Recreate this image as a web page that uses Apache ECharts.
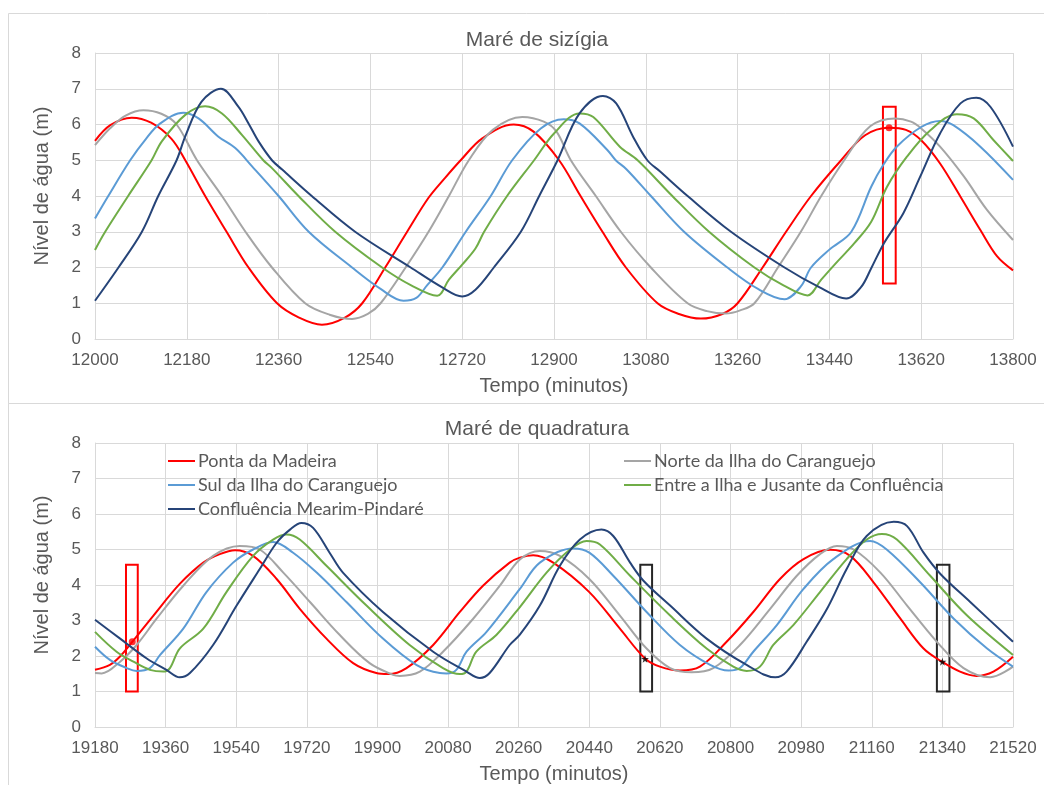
<!DOCTYPE html>
<html>
<head>
<meta charset="utf-8">
<title>Maré</title>
<script src="https://cdn.jsdelivr.net/npm/echarts@6/dist/echarts.min.js"></script>
<style>
html, body { margin: 0; padding: 0; background: #fff; }
#main { width: 1044px; height: 785px; }
</style>
</head>
<body>
<div id="main"></div>
<script>
// nomes das estações e cores (estilo Excel)
const names = ['Ponta da Madeira', 'Norte da Ilha do Caranguejo', 'Sul da Ilha do Caranguejo',
               'Entre a Ilha e Jusante da Confluência', 'Confluência Mearim-Pindaré'];
const colors = ['#ff0000', '#a5a5a5', '#5b9bd5', '#70ad47', '#264478'];

// Maré de sizígia: [tempo (min), nível (m)]
const sizPonta = [[12000,5.54],[12030,5.98],[12072,6.19],[12110,6.05],[12150,5.6],[12177,5.0],[12216,4.0],[12258,3.0],[12301,2.0],[12357,1.0],[12400,0.6],[12445,0.40],[12490,0.6],[12524,1.0],[12569,2.0],[12612,3.0],[12654,3.95],[12686,4.5],[12717,5.0],[12760,5.62],[12821,6.0],[12860,5.8],[12910,5.0],[12952,4.0],[12995,3.0],[13041,2.0],[13103,1.0],[13145,0.7],[13188,0.57],[13230,0.7],[13260,1.0],[13309,2.0],[13355,3.0],[13404,4.0],[13463,5.0],[13510,5.7],[13557,5.91],[13590,5.85],[13620,5.56],[13657,4.91],[13697,3.98],[13736,3.05],[13769,2.31],[13800,1.92]];
const sizNorte = [[12000,5.42],[12030,5.9],[12060,6.25],[12095,6.40],[12130,6.3],[12160,6.0],[12200,5.0],[12249,4.0],[12295,3.0],[12347,2.0],[12412,1.0],[12460,0.68],[12504,0.56],[12535,0.7],[12560,1.0],[12609,2.0],[12654,3.0],[12694,4.0],[12733,5.0],[12780,5.85],[12838,6.21],[12880,6.08],[12905,5.8],[12933,5.0],[12982,4.0],[13031,3.0],[13090,2.0],[13162,1.0],[13200,0.78],[13237,0.71],[13265,0.8],[13293,1.0],[13339,2.0],[13384,3.0],[13424,4.0],[13469,5.0],[13520,5.95],[13569,6.17],[13600,6.08],[13620,5.89],[13657,5.38],[13704,4.54],[13749,3.61],[13800,2.77]];
const sizSul = [[12000,3.37],[12026,4.0],[12069,5.0],[12100,5.6],[12128,6.03],[12173,6.33],[12203,6.17],[12242,5.66],[12275,5.34],[12308,4.83],[12360,4.0],[12419,3.0],[12504,2.0],[12560,1.4],[12605,1.07],[12630,1.15],[12651,1.5],[12681,2.0],[12727,3.0],[12776,4.0],[12818,5.0],[12874,5.89],[12919,6.15],[12950,6.03],[13005,5.28],[13021,5.0],[13042,4.75],[13090,4.0],[13155,3.0],[13240,2.0],[13300,1.4],[13352,1.11],[13384,1.47],[13404,2.0],[13440,2.5],[13483,3.0],[13522,4.26],[13547,4.9],[13572,5.38],[13620,5.93],[13657,6.10],[13683,5.98],[13736,5.38],[13800,4.45]];
const sizEntre = [[12000,2.49],[12020,3.0],[12065,4.0],[12111,5.0],[12131,5.53],[12177,6.27],[12216,6.51],[12249,6.31],[12288,5.71],[12330,5.0],[12347,4.78],[12399,4.0],[12471,3.0],[12563,2.0],[12620,1.5],[12671,1.21],[12694,1.66],[12720,2.08],[12746,2.53],[12763,3.0],[12808,4.0],[12861,5.0],[12900,5.75],[12950,6.31],[12977,6.21],[13029,5.38],[13064,5.0],[13132,4.0],[13204,3.0],[13293,2.0],[13350,1.5],[13397,1.22],[13424,1.66],[13456,2.17],[13489,2.68],[13522,3.28],[13553,4.26],[13592,5.10],[13638,5.84],[13690,6.29],[13723,6.17],[13762,5.56],[13800,4.98]];
const sizConfluencia = [[12000,1.07],[12046,2.0],[12092,3.0],[12124,4.0],[12160,5.0],[12177,5.67],[12209,6.64],[12247,7.0],[12281,6.5],[12301,6.03],[12321,5.52],[12347,5.0],[12367,4.74],[12425,4.0],[12510,3.0],[12619,2.0],[12680,1.45],[12720,1.19],[12746,1.38],[12782,2.0],[12835,3.0],[12871,4.0],[12907,5.0],[12950,6.31],[12996,6.80],[13022,6.59],[13055,5.66],[13083,5.0],[13107,4.7],[13162,4.0],[13247,3.0],[13352,2.0],[13420,1.45],[13473,1.13],[13502,1.45],[13522,1.98],[13547,2.68],[13585,3.52],[13618,4.54],[13657,5.75],[13697,6.59],[13728,6.75],[13756,6.49],[13800,5.38]];

// Maré de quadratura
const quadPonta = [[19180,1.61],[19218,1.75],[19245,2.0],[19275,2.40],[19329,3.14],[19396,4.03],[19456,4.63],[19498,4.87],[19537,4.98],[19583,4.82],[19643,4.17],[19702,3.33],[19770,2.49],[19838,1.80],[19897,1.52],[19927,1.49],[19974,1.66],[20042,2.31],[20110,3.24],[20169,3.98],[20237,4.63],[20263,4.77],[20297,4.84],[20348,4.63],[20440,3.80],[20518,2.77],[20582,1.93],[20620,1.70],[20671,1.59],[20722,1.70],[20790,2.40],[20858,3.24],[20926,4.17],[20986,4.73],[21054,4.99],[21105,4.82],[21165,4.07],[21233,3.05],[21292,2.21],[21339,1.84],[21385,1.56],[21427,1.44],[21470,1.56],[21520,1.98]];
const quadNorte = [[19180,1.52],[19197,1.51],[19244,1.84],[19286,2.31],[19337,3.05],[19405,3.98],[19481,4.82],[19549,5.10],[19600,5.0],[19660,4.35],[19728,3.52],[19804,2.59],[19880,1.80],[19940,1.47],[19957,1.44],[20008,1.56],[20067,2.12],[20144,3.05],[20212,3.98],[20263,4.72],[20314,4.96],[20365,4.82],[20440,4.17],[20518,3.14],[20586,2.21],[20646,1.66],[20701,1.54],[20756,1.66],[20824,2.31],[20901,3.33],[20969,4.26],[21028,4.87],[21071,5.10],[21114,5.0],[21182,4.35],[21250,3.42],[21326,2.40],[21394,1.66],[21462,1.40],[21520,1.70]];
const quadSul = [[19180,2.26],[19218,1.89],[19261,1.66],[19286,1.58],[19320,1.66],[19346,2.03],[19405,2.77],[19464,3.80],[19532,4.63],[19583,5.0],[19634,5.21],[19685,4.91],[19745,4.35],[19821,3.52],[19914,2.49],[19999,1.75],[20059,1.52],[20076,1.51],[20101,1.61],[20127,2.12],[20178,2.68],[20263,3.89],[20314,4.63],[20399,5.03],[20440,4.91],[20501,4.26],[20586,3.24],[20671,2.31],[20748,1.75],[20795,1.59],[20824,1.66],[20858,2.12],[20918,2.87],[20986,3.89],[21062,4.73],[21156,5.24],[21198,5.0],[21284,4.07],[21369,3.05],[21454,2.21],[21520,1.70]];
const quadEntre = [[19180,2.68],[19235,2.12],[19278,1.84],[19320,1.61],[19354,1.56],[19371,1.66],[19396,2.21],[19456,2.77],[19515,3.80],[19583,4.82],[19634,5.28],[19668,5.42],[19702,5.28],[19770,4.54],[19872,3.42],[19982,2.31],[20067,1.66],[20110,1.49],[20127,1.56],[20152,2.12],[20203,2.59],[20263,3.38],[20331,4.35],[20391,5.0],[20433,5.24],[20467,5.14],[20544,4.26],[20646,3.14],[20739,2.21],[20807,1.70],[20841,1.58],[20875,1.70],[20909,2.31],[20960,2.87],[21028,3.80],[21096,4.73],[21147,5.28],[21186,5.44],[21224,5.28],[21309,4.26],[21403,3.14],[21520,2.03]];
const quadConfluencia = [[19180,3.02],[19244,2.49],[19312,1.93],[19362,1.61],[19396,1.40],[19422,1.52],[19481,2.31],[19541,3.42],[19600,4.45],[19643,5.19],[19677,5.56],[19706,5.75],[19736,5.61],[19778,4.91],[19812,4.35],[19914,3.24],[20042,2.12],[20127,1.56],[20161,1.38],[20186,1.52],[20237,2.31],[20263,2.6],[20314,3.42],[20365,4.54],[20416,5.28],[20471,5.56],[20501,5.38],[20544,4.63],[20578,4.12],[20646,3.42],[20739,2.49],[20841,1.75],[20914,1.40],[20943,1.56],[20994,2.40],[21046,3.33],[21096,4.45],[21147,5.38],[21216,5.78],[21250,5.66],[21292,4.91],[21335,4.31],[21411,3.52],[21520,2.40]];

// destaques: caixas [t0, y0, t1, y1] e pontos
const sizBox = [[13545, 1.55, 13570, 6.5]];
const sizDot = [[13557, 5.91]];
const quadBoxRed = [[19259, 1.0, 19289, 4.57]];
const quadBoxBlack = [[20570, 1.0, 20600, 4.57], [21326, 1.0, 21358, 4.57]];
const quadDot = [[19275, 2.40]];
const quadStar = [[20582, 1.92], [21340, 1.84]];

const sizData = [sizPonta, sizNorte, sizSul, sizEntre, sizConfluencia];
const quadData = [quadPonta, quadNorte, quadSul, quadEntre, quadConfluencia];

var axisFont = 'Liberation Sans, Arial, sans-serif';
var grayTxt = '#595959';
var gridCol = '#d9d9d9';

function boxes(list, col) {
    return list.map(function (b) {
        return [{ xAxis: b[0], yAxis: b[1], itemStyle: { color: 'rgba(0,0,0,0)', borderColor: col, borderWidth: 2 } },
                { xAxis: b[2], yAxis: b[3] }];
    });
}

function xAx(idx, min, max) {
    return {
        type: 'value', gridIndex: idx, min: min, max: max, interval: 180,
        name: 'Tempo (minutos)', nameLocation: 'middle', nameGap: 37,
        nameTextStyle: { color: grayTxt, fontSize: 20, fontFamily: axisFont },
        axisLine: { show: true, lineStyle: { color: gridCol } },
        axisTick: { show: false },
        axisLabel: { color: grayTxt, fontSize: 17, fontFamily: axisFont, margin: 13,
                     formatter: function (v) { return String(v); } },
        splitLine: { show: true, lineStyle: { color: gridCol } }
    };
}

function yAx(idx) {
    return {
        type: 'value', gridIndex: idx, min: 0, max: 8, interval: 1,
        name: 'Nível de água (m)', nameLocation: 'middle', nameGap: 43, nameRotate: 90,
        nameTextStyle: { color: grayTxt, fontSize: 20, fontFamily: axisFont, padding: [0, 0, 0, 20] },
        axisLine: { show: true, lineStyle: { color: gridCol } },
        axisTick: { show: false },
        axisLabel: { color: grayTxt, fontSize: 17, fontFamily: axisFont, margin: 14 },
        splitLine: { show: true, lineStyle: { color: gridCol } }
    };
}

var series = [];
[sizData, quadData].forEach(function (set, g) {
    set.forEach(function (d, i) {
        series.push({
            name: names[i], type: 'line', xAxisIndex: g, yAxisIndex: g,
            data: d, smooth: 0.35, showSymbol: false, symbol: 'none',
            lineStyle: { color: colors[i], width: 2 }, itemStyle: { color: colors[i] },
            silent: true, z: 2 + i
        });
    });
});
// caixas presas à série vermelha de cada painel
series[0].markArea = { silent: true, label: { show: false }, data: boxes(sizBox, '#ff0000') };
series[5].markArea = { silent: true, label: { show: false },
    data: boxes(quadBoxRed, '#ff0000').concat(boxes(quadBoxBlack, '#262626')) };

series.push({ type: 'scatter', xAxisIndex: 0, yAxisIndex: 0, data: sizDot, symbol: 'circle', symbolSize: 7, itemStyle: { color: '#ff0000' }, z: 10 });
series.push({ type: 'scatter', xAxisIndex: 1, yAxisIndex: 1, data: quadDot, symbol: 'circle', symbolSize: 7, itemStyle: { color: '#ff0000' }, z: 10 });
series.push({ type: 'scatter', xAxisIndex: 1, yAxisIndex: 1, data: quadStar,
    symbol: 'path://M50,0 L61,35 L98,35 L68,57 L79,91 L50,70 L21,91 L32,57 L2,35 L39,35 Z',
    symbolSize: 8, itemStyle: { color: '#000' }, z: 10 });

var legendBase = {
    orient: 'vertical', icon: 'rect', itemWidth: 27, itemHeight: 2, itemGap: 0,
    textStyle: { color: grayTxt, fontSize: 18, fontFamily: 'Lato, sans-serif', lineHeight: 24, padding: [0, 0, 0, -2] },
    selectedMode: false, padding: 0
};

var myChart = echarts.init(document.getElementById('main'));
var option = {
    backgroundColor: '#fff',
    animation: false,
    title: [
        { text: 'Maré de sizígia', left: 532, top: 25, textAlign: 'center',
          textStyle: { color: grayTxt, fontSize: 21, fontWeight: 'normal', fontFamily: axisFont } },
        { text: 'Maré de quadratura', left: 532, top: 414, textAlign: 'center',
          textStyle: { color: grayTxt, fontSize: 21, fontWeight: 'normal', fontFamily: axisFont } }
    ],
    legend: [
        Object.assign({}, legendBase, { left: 168, top: 449, data: [names[0], names[2], names[4]] }),
        Object.assign({}, legendBase, { left: 624, top: 449, data: [names[1], names[3]] })
    ],
    grid: [
        { left: 95, right: 31, top: 53, height: 286 },
        { left: 95, right: 31, top: 443, height: 286 }
    ],
    xAxis: [xAx(0, 12000, 13800), xAx(1, 19180, 21520)],
    yAxis: [yAx(0), yAx(1)],
    graphic: [
        { type: 'rect', silent: true, z: -1, shape: { x: 8.5, y: 13.5, width: 1100, height: 390 }, style: { fill: 'none', stroke: gridCol, lineWidth: 1 } },
        { type: 'rect', silent: true, z: -1, shape: { x: 8.5, y: 403.5, width: 1100, height: 500 }, style: { fill: 'none', stroke: gridCol, lineWidth: 1 } }
    ],
    series: series
};
myChart.setOption(option);
</script>
</body>
</html>
